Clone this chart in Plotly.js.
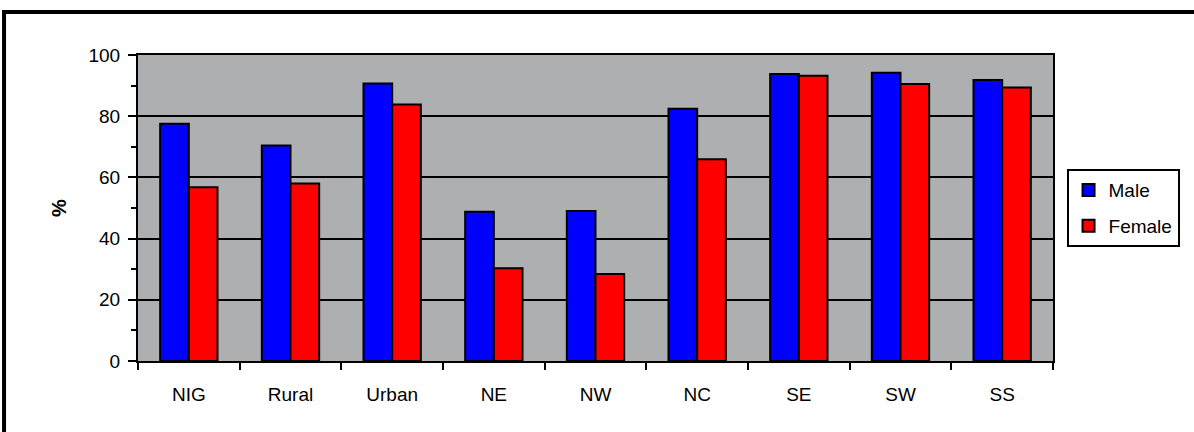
<!DOCTYPE html>
<html>
<head>
<meta charset="utf-8">
<script src="https://cdn.plot.ly/plotly-3.0.1.min.js"></script>
<style>
  html, body { margin: 0; padding: 0; background: #ffffff; }
  #chart { width: 1194px; height: 432px; }
</style>
</head>
<body>
<div id="chart"></div>
<script>
const categories = ["NIG", "Rural", "Urban", "NE", "NW", "NC", "SE", "SW", "SS"];
const maleValues = [77.5, 70.4, 90.7, 48.8, 49.0, 82.4, 93.8, 94.2, 91.8];
const femaleValues = [56.8, 58.0, 83.8, 30.3, 28.4, 65.9, 93.2, 90.5, 89.4];
const yTickValues = [0, 20, 40, 60, 80, 100];
const seriesNames = ["Male", "Female"];

const font = "Liberation Sans, Arial, sans-serif";

const traces = [
  {
    type: "bar", name: seriesNames[0], x: categories, y: maleValues, legendgroup: "m",
    marker: { color: "#0000ff", line: { color: "#000000", width: 2 } },
    hoverinfo: "x+y"
  },
  {
    type: "bar", name: seriesNames[1], x: categories, y: femaleValues, legendgroup: "f",
    marker: { color: "#ff0000", line: { color: "#000000", width: 2 } },
    hoverinfo: "x+y"
  }
];

const layout = {
  width: 1194, height: 432,
  margin: { l: 138, r: 141, t: 55, b: 71 },
  paper_bgcolor: "#ffffff",
  plot_bgcolor: "#adafb1",
  barmode: "group",
  bargap: 0.436,
  bargroupgap: 0,
  font: { family: font, size: 20, color: "#000000" },
  xaxis: {
    type: "category",
    showline: true, linecolor: "#000000", linewidth: 2, mirror: true,
    ticks: "outside", tickson: "boundaries", ticklen: 7, tickwidth: 2, tickcolor: "#000000",
    showgrid: false, zeroline: false,
    tickfont: { family: font, size: 19, color: "#000000" },
    ticklabelstandoff: 15
  },
  yaxis: {
    range: [0, 100],
    tickvals: yTickValues,
    showline: true, linecolor: "#000000", linewidth: 2, mirror: true,
    ticks: "outside", ticklen: 8, tickwidth: 2, tickcolor: "#000000",
    minor: { dtick: 10, ticks: "outside", ticklen: 5, tickwidth: 2, tickcolor: "#000000", showgrid: false },
    showgrid: true, gridcolor: "#000000", gridwidth: 2,
    zeroline: false,
    tickfont: { family: font, size: 19, color: "#000000" },
    ticklabelstandoff: 4,
    title: { text: "<b>%</b>", font: { family: font, size: 20, color: "#000000" }, standoff: 16 }
  },
  legend: {
    x: 1.0148, y: 0.627, xanchor: "left", yanchor: "top",
    bgcolor: "#ffffff", bordercolor: "#000000", borderwidth: 2,
    font: { family: font, size: 19, color: "#000000" },
    tracegroupgap: 8, itemwidth: 30
  },
  showlegend: true,
  shapes: [
    { type: "line", xref: "paper", yref: "paper", x0: -0.1464, x1: 1.2, y0: 1.1405, y1: 1.1405,
      line: { color: "#000000", width: 4 } },
    { type: "line", xref: "paper", yref: "paper", x0: -0.1464, x1: -0.1464, y0: 1.147, y1: -0.3,
      line: { color: "#000000", width: 4 } }
  ]
};

Plotly.newPlot("chart", traces, layout, { displayModeBar: false, staticPlot: true });
</script>
</body>
</html>
